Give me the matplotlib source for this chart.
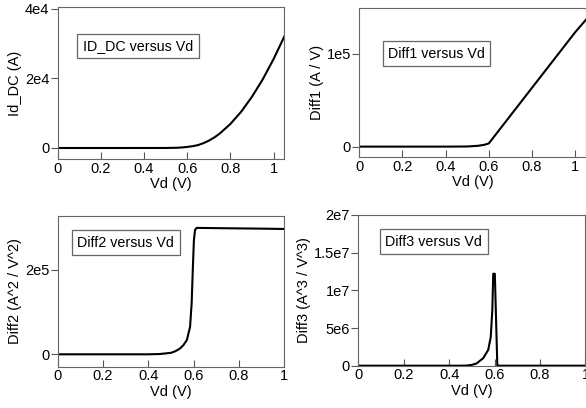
import matplotlib
matplotlib.use("Agg")
import matplotlib.pyplot as plt

plt.rcParams['font.family'] = ['Liberation Sans', 'DejaVu Sans']

# values
vd_id = [0.0, 0.3, 0.45, 0.5, 0.55, 0.575, 0.6, 0.625, 0.65, 0.675, 0.7, 0.725, 0.75,
         0.8, 0.85, 0.9, 0.95, 1.0, 1.05]
id_dc = [0, 0, 2, 10, 60, 150, 300, 520, 830, 1380, 2100, 3000, 4100,
         6900, 10400, 14700, 19700, 25500, 32000]

vd_d1 = [0.0, 0.4, 0.5, 0.55, 0.58, 0.6, 0.65, 0.7, 0.8, 0.9, 1.0, 1.05]
diff1 = [0, 0, 150, 900, 2000, 3500, 18500, 33500, 63500, 93500, 123500, 137000]

vd_d2 = [0.0, 0.4, 0.45, 0.5, 0.52, 0.54, 0.555, 0.57, 0.584, 0.591, 0.596, 0.601, 0.606,
         0.613, 0.7, 0.8, 0.9, 1.0]
diff2 = [0, 0, 700, 3500, 7500, 14000, 22000, 34000, 65000, 121000, 200000, 271000, 295000,
         299800, 299200, 298600, 298000, 297200]

vd_d3 = [0.0, 0.45, 0.477, 0.5, 0.521, 0.55, 0.572, 0.583, 0.59, 0.594, 0.601, 0.612, 1.0]
diff3 = [0, 0, 20000, 110000, 300000, 1.0e6, 2.1e6, 3.8e6, 7.4e6, 1.22e7, 1.22e7, 0, 0]

xticks = [0, 0.2, 0.4, 0.6, 0.8, 1.0]
xtick_labels = ['0', '0.2', '0.4', '0.6', '0.8', '1']

panels = [
    # x, y, ylabel, title, yticks, yticklabels, xlim, ylim, axes rect, box pos
    (vd_id, id_dc, 'Id_DC (A)', 'ID_DC versus Vd', [0, 2e4, 4e4], ['0', '2e4', '4e4'],
     (0, 1.05), (-3240, 40550), [0.0985, 0.6096, 0.3867, 0.374], (0.354, 0.742)),
    (vd_d1, diff1, 'Diff1 (A / V)', 'Diff1 versus Vd', [0, 1e5], ['0', '1e5'],
     (0, 1.05), (-11500, 149300), [0.6131, 0.6145, 0.3869, 0.3652], (0.341, 0.695)),
    (vd_d2, diff2, 'Diff2 (A^2 / V^2)', 'Diff2 versus Vd', [0, 2e5], ['0', '2e5'],
     (0, 1.0), (-29400, 328000), [0.0985, 0.1012, 0.3867, 0.3694], (0.30, 0.824)),
    (vd_d3, diff3, 'Diff3 (A^3 / V^3)', 'Diff3 versus Vd', [0, 5e6, 1e7, 1.5e7, 2e7],
     ['0', '5e6', '1e7', '1.5e7', '2e7'],
     (0, 1.0), (0, 2e7), [0.6114, 0.1037, 0.3877, 0.3694], (0.332, 0.823)),
]

fig = plt.figure(figsize=(5.86, 4.08), dpi=100)

for x, y, ylab, title, yt, ytl, xl, yl, rect, boxpos in panels:
    ax = fig.add_axes(rect)
    ax.plot(x, y, color='black', lw=1.5, solid_joinstyle='round')
    ax.set_xlim(*xl)
    ax.set_ylim(*yl)
    ax.set_xticks(xticks)
    ax.set_xticklabels(xtick_labels)
    ax.set_yticks(yt)
    ax.set_yticklabels(ytl)
    ax.tick_params(axis='x', direction='in', length=5, width=0.8, color='#555555',
                   labelsize=10.5, pad=2)
    ax.tick_params(axis='y', direction='out', length=5, width=0.8, color='#555555',
                   labelsize=10.5, pad=1)
    for s in ax.spines.values():
        s.set_color('#666666')
        s.set_linewidth(0.8)
    ax.set_xlabel('Vd (V)', fontsize=10.5, labelpad=1)
    ax.set_ylabel(ylab, fontsize=10.5, labelpad=2)
    ax.text(boxpos[0], boxpos[1], title, transform=ax.transAxes, ha='center', va='center',
            fontsize=10.3,
            bbox=dict(boxstyle='square,pad=0.38', fc='white', ec='#666666', lw=0.9))

plt.savefig('out.png', dpi=100)
